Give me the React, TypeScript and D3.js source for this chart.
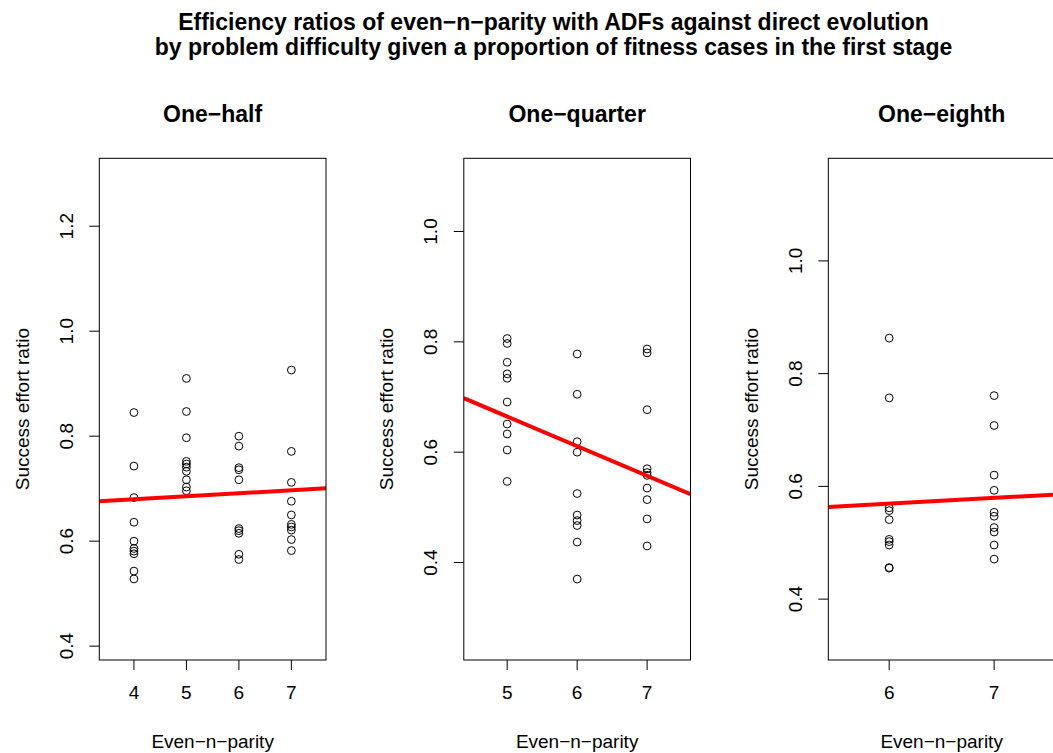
import * as d3 from 'd3';

const mainTitle = [
    'Efficiency ratios of even\u2212n\u2212parity with ADFs against direct evolution',
    'by problem difficulty given a proportion of fitness cases in the first stage',
];
const panelTitles = ['One\u2212half', 'One\u2212quarter', 'One\u2212eighth'];
const xLabel = 'Even\u2212n\u2212parity';
const yLabel = 'Success effort ratio';

// problem sizes per panel
const panelSizes = [[4, 5, 6, 7], [5, 6, 7], [6, 7]];

// success effort ratios, one array per problem size
const halfRatios = [
    [0.845, 0.743, 0.683, 0.636, 0.6, 0.586, 0.581, 0.576, 0.543, 0.528],
    [0.91, 0.847, 0.797, 0.752, 0.747, 0.741, 0.733, 0.717, 0.703, 0.696],
    [0.8, 0.781, 0.74, 0.736, 0.717, 0.624, 0.62, 0.615, 0.575, 0.565],
    [0.926, 0.771, 0.712, 0.676, 0.65, 0.632, 0.627, 0.621, 0.603, 0.582],
];
const quarterRatios = [
    [0.806, 0.797, 0.763, 0.742, 0.734, 0.691, 0.651, 0.633, 0.604, 0.547],
    [0.778, 0.705, 0.619, 0.6, 0.525, 0.486, 0.476, 0.467, 0.437, 0.37],
    [0.787, 0.78, 0.677, 0.57, 0.563, 0.558, 0.535, 0.514, 0.479, 0.43],
];
const eighthRatios = [
    [0.863, 0.757, 0.562, 0.557, 0.541, 0.506, 0.502, 0.496, 0.456, 0.455],
    [0.761, 0.708, 0.62, 0.593, 0.554, 0.547, 0.527, 0.519, 0.496, 0.471],
];
const panelRatios = [halfRatios, quarterRatios, eighthRatios];

const xLimits: [number, number][] = [[3.5, 7.5], [4.5, 7.5], [5.5, 7.5]];
const yLimits: [number, number][] = [[0.409, 1.294], [0.257, 1.099], [0.325, 1.149]];
const yTicks = [
    [0.4, 0.6, 0.8, 1.0, 1.2],
    [0.4, 0.6, 0.8, 1.0],
    [0.4, 0.6, 0.8, 1.0],
];

const W = 1053;
const H = 753;
const FONT = '"Liberation Sans", Arial, Helvetica, sans-serif';
const panelStep = 364.5;
const plotLeft0 = 99.3;
const plotW = 226.7;
const plotTop = 158.3;
const plotBottom = 660;

// R-style 4% axis expansion
const expand = ([a, b]: [number, number]): [number, number] => {
    const d = (b - a) * 0.04;
    return [a - d, b + d];
};

function Panel({ index }: { index: number }) {
    const left = plotLeft0 + index * panelStep;
    const right = left + plotW;
    const sizes = panelSizes[index];
    const ratios = panelRatios[index];

    const x = d3.scaleLinear().domain(expand(xLimits[index])).range([left, right]);
    const y = d3.scaleLinear().domain(expand(yLimits[index])).range([plotBottom, plotTop]);

    const points = sizes.flatMap((s, i) => ratios[i].map((v) => ({ s, v })));

    // least squares fit, as abline(lm(...))
    const mx = d3.mean(points, (p) => p.s) as number;
    const my = d3.mean(points, (p) => p.v) as number;
    const sxy = d3.sum(points, (p) => (p.s - mx) * (p.v - my));
    const sxx = d3.sum(points, (p) => (p.s - mx) ** 2);
    const slope = sxy / sxx;
    const fit = (s: number) => my + slope * (s - mx);
    const [x0, x1] = x.domain();
    const line = d3
        .line<number>()
        .x((s) => x(s))
        .y((s) => y(fit(s)));

    const clipId = `plot-clip-${index}`;
    const cy = (plotTop + plotBottom) / 2;
    const fmt = d3.format('.1f');

    return (
        <g>
            <defs>
                <clipPath id={clipId}>
                    <rect x={left} y={plotTop} width={plotW} height={plotBottom - plotTop} />
                </clipPath>
            </defs>
            <text
                x={(left + right) / 2}
                y={114}
                textAnchor="middle"
                dominantBaseline="central"
                fontWeight="bold"
                fontSize={23}
            >
                {panelTitles[index]}
            </text>
            <g clipPath={`url(#${clipId})`}>
                {points.map((p, i) => (
                    <circle
                        key={i}
                        cx={x(p.s)}
                        cy={y(p.v)}
                        r={3.9}
                        fill="none"
                        stroke="#000"
                        strokeWidth={1}
                    />
                ))}
                <path d={line([x0, x1]) ?? ''} stroke="#ff0000" strokeWidth={4} fill="none" />
            </g>
            <rect
                x={left}
                y={plotTop}
                width={plotW}
                height={plotBottom - plotTop}
                fill="none"
                stroke="#000"
                strokeWidth={1}
            />
            {sizes.map((s) => (
                <g key={s}>
                    <line x1={x(s)} x2={x(s)} y1={plotBottom} y2={plotBottom + 10} stroke="#000" />
                    <text x={x(s)} y={692} textAnchor="middle" dominantBaseline="central" fontSize={19}>
                        {s}
                    </text>
                </g>
            ))}
            {yTicks[index].map((t) => (
                <g key={t}>
                    <line x1={left - 10} x2={left} y1={y(t)} y2={y(t)} stroke="#000" />
                    <text
                        transform={`translate(${left - 33},${y(t)}) rotate(-90)`}
                        textAnchor="middle"
                        dominantBaseline="central"
                        fontSize={19}
                    >
                        {fmt(t)}
                    </text>
                </g>
            ))}
            <text x={(left + right) / 2} y={741} textAnchor="middle" dominantBaseline="central" fontSize={19}>
                {xLabel}
            </text>
            <text
                transform={`translate(${left - 77},${cy}) rotate(-90)`}
                textAnchor="middle"
                dominantBaseline="central"
                fontSize={19}
            >
                {yLabel}
            </text>
        </g>
    );
}

export default function App() {
    return (
        <svg
            width={W}
            height={H}
            viewBox={`0 0 ${W} ${H}`}
            style={{ position: 'fixed', left: 0, top: 0, background: '#fff' }}
            fontFamily={FONT}
        >
            <rect width={W} height={H} fill="#fff" />
            {mainTitle.map((t, i) => (
                <text
                    key={i}
                    x={553.5}
                    y={22 + i * 24.5}
                    textAnchor="middle"
                    dominantBaseline="central"
                    fontWeight="bold"
                    fontSize={23}
                >
                    {t}
                </text>
            ))}
            {panelTitles.map((_, i) => (
                <Panel key={i} index={i} />
            ))}
        </svg>
    );
}
